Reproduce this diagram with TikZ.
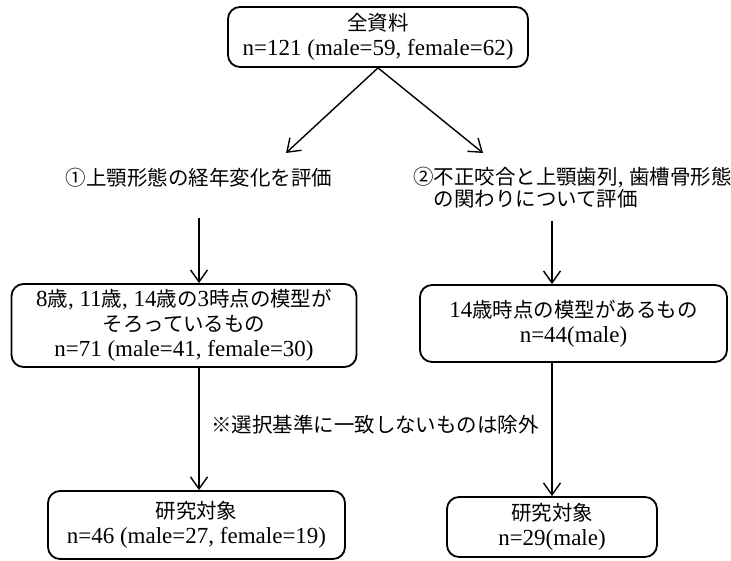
\documentclass[tikz,border=0pt]{standalone}
\usepackage{fontspec}
\setmainfont{Liberation Serif}
\newfontfamily\jpfont[Scale=0.89]{Noto Sans CJK JP}
\newcommand{\ja}[1]{{\jpfont #1}}
\usetikzlibrary{arrows.meta}

\begin{document}
\begin{tikzpicture}[x=1pt, y=-1pt,
		every node/.style={font=\fontsize{23}{25}\selectfont},
		box/.style={draw, line width=1.8pt, rounded corners=12pt, align=center, inner sep=0pt},
		lab/.style={align=center, inner sep=0pt, font=\fontsize{23}{22}\selectfont},
		arr/.style={-{Straight Barb[length=12pt,width=17pt]}, line width=1.4pt}]
			\useasboundingbox (0,0) rectangle (731,561);
			% top
			\node[box, minimum width=300pt, minimum height=60pt] (all) at (378,37) {\ja{全資料}\\n=121 (male=59, female=62)};
			\node[lab] (obj1) at (199,178) {\ja{①上顎形態の経年変化を評価}};
			\node[lab, align=left, anchor=west] (obj2) at (413,188) {\ja{②不正咬合と上顎歯列}, \ja{歯槽骨形態}\\\ja{\phantom{②}の関わりについて評価}};
			\coordinate (tipL) at (286,153);
			\coordinate (tipR) at (483,153);
			\draw[arr] (all.south) -- (tipL);
			\draw[arr] (all.south) -- (tipR);
			% middle
			\node[box, minimum width=345pt, minimum height=83pt] (sel) at (184,325.5) {8\ja{歳}, 11\ja{歳}, 14\ja{歳の}3\ja{時点の模型が}\\\ja{そろっているもの}\\n=71 (male=41, female=30)};
			\node[box, minimum width=307pt, minimum height=77pt] (has14) at (573.5,323.5) {14\ja{歳時点の模型があるもの}\\n=44(male)};
			% bottom
			\node[box, minimum width=297pt, minimum height=68pt] (subjA) at (196.5,525) {\ja{研究対象}\\n=46 (male=27, female=19)};
			\node[box, minimum width=210pt, minimum height=60pt] (subjB) at (552,527) {\ja{研究対象}\\n=29(male)};
			\node[lab] (excl) at (375,425) {\ja{※選択基準に一致しないものは除外}};
			\draw[arr, shorten <=30pt] (obj1.south) -- (obj1.south |- sel.north);
			\draw[arr, shorten <=12pt] (obj2.south -| subjB.north) -- (has14.north -| subjB.north);
			\draw[arr] (obj1.south |- sel.south) -- (obj1.south |- subjA.north);
			\draw[arr] (subjB.north |- has14.south) -- (subjB.north);
		\end{tikzpicture}
\end{document}
